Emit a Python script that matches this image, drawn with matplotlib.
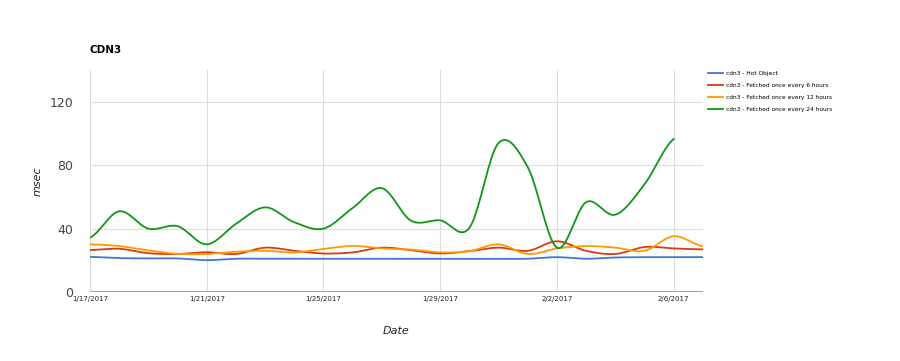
import numpy as np
import matplotlib
matplotlib.use("Agg")
import matplotlib.pyplot as plt
import matplotlib.dates as mdates
import datetime as dt

# daily samples, 1/17/2017 .. 2/7/2017
dates = [dt.date(2017, 1, 17) + dt.timedelta(days=i) for i in range(22)]

hot_object = [22.2, 21.4, 21.2, 21.2, 20.1, 21.0, 21.0, 21.0, 21.0, 21.0, 21.0,
              21.0, 21.0, 21.0, 21.0, 21.0, 22.0, 21.0, 21.8, 22.0, 22.0, 22.0]
every_6h = [26.5, 27.3, 24.5, 24.0, 25.1, 24.0, 28.0, 26.0, 24.3, 25.0, 28.0,
            26.4, 24.3, 25.8, 28.0, 26.0, 32.0, 26.0, 24.0, 28.4, 27.5, 26.9]
every_12h = [30.1, 29.0, 26.2, 24.1, 24.0, 25.4, 26.0, 25.0, 27.2, 29.1, 27.5,
             26.8, 25.0, 25.8, 30.1, 24.0, 27.5, 29.0, 28.0, 26.0, 35.2, 28.8]
every_24h = [34.3, 50.9, 40.0, 41.5, 30.1, 43.0, 53.4, 44.0, 40.0, 53.0, 65.5,
             45.0, 45.2, 40.5, 94.0, 78.7, 28.0, 56.7, 48.8, 68.0, 96.5]

series = [
    ("cdn3 - Hot Object", hot_object, "#3c78d8"),
    ("cdn3 - Fetched once every 6 hours", every_6h, "#dc3912"),
    ("cdn3 - Fetched once every 12 hours", every_12h, "#ff9900"),
    ("cdn3 - Fetched once every 24 hours", every_24h, "#109618"),
]


def smooth(x, y, n=20):
    # catmull-rom curve through the points (like curveType: 'function')
    x = np.asarray(x, float)
    y = np.asarray(y, float)
    px = np.concatenate([[2 * x[0] - x[1]], x, [2 * x[-1] - x[-2]]])
    py = np.concatenate([[y[0]], y, [y[-1]]])
    xs, ys = [], []
    t = np.linspace(0, 1, n, endpoint=False)
    for i in range(1, len(px) - 2):
        for p, out in ((px, xs), (py, ys)):
            p0, p1, p2, p3 = p[i - 1], p[i], p[i + 1], p[i + 2]
            out.extend(0.5 * ((2 * p1) + (-p0 + p2) * t
                              + (2 * p0 - 5 * p1 + 4 * p2 - p3) * t ** 2
                              + (-p0 + 3 * p1 - 3 * p2 + p3) * t ** 3))
    xs.append(x[-1])
    ys.append(y[-1])
    return np.array(xs), np.array(ys)


fig = plt.figure(figsize=(9, 3.61), dpi=100)
ax = fig.add_axes([0.1, 0.191, 0.681, 0.615])

xnum = mdates.date2num(dates)
for label, vals, color in series:
    sx, sy = smooth(xnum[:len(vals)], vals)
    ax.plot(sx, sy, color=color, lw=1.3, label=label)

ax.set_xlim(xnum[0], xnum[-1])
ax.set_ylim(0, 140)
ax.set_yticks([0, 40, 80, 120])
ax.set_xticks(xnum[::4])
ax.set_xticklabels([f"{d.month}/{d.day}/{d.year}" for d in dates[::4]])
ax.tick_params(axis="x", labelsize=5, length=0, pad=3, colors="#222222")
ax.tick_params(axis="y", labelsize=9, length=0, pad=12, colors="#444444")

ax.grid(True, color="#dddddd", lw=0.8)
ax.set_axisbelow(True)
for s in ax.spines.values():
    s.set_visible(False)
ax.axhline(0, color="#999999", lw=2)

ax.set_xlabel("Date", fontsize=8, style="italic", labelpad=17, color="#222222")
ax.set_ylabel("msec", fontsize=8, style="italic", labelpad=5, color="#222222")
fig.text(0.1, 0.852, "CDN3", fontsize=7.5, fontweight="bold")

ax.legend(loc="upper left", bbox_to_anchor=(1.0, 1.018), fontsize=4.2,
          frameon=False, handlelength=2.6, handletextpad=0.5,
          labelspacing=1.15)

fig.savefig("out.png", dpi=100)
